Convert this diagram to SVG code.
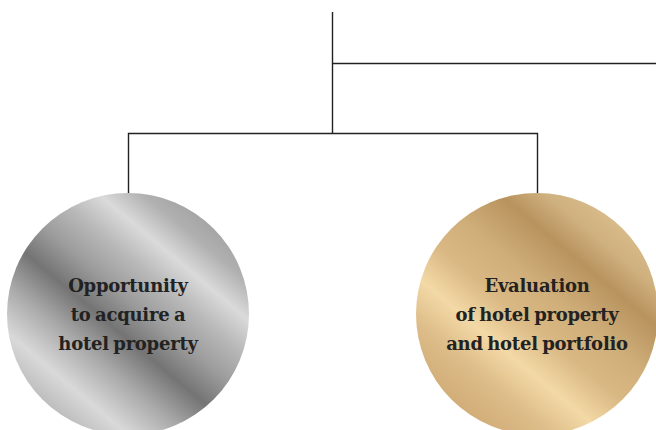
<svg xmlns="http://www.w3.org/2000/svg" width="656" height="430" viewBox="0 0 656 430">
<style>
.ln{stroke:#222;stroke-width:1.4;fill:none}
.lbl{font-family:"DejaVu Serif","Liberation Serif",serif;font-weight:bold;font-size:18px;letter-spacing:-0.25px;word-spacing:-1.5px;fill:#222;text-anchor:middle}
</style>
<defs>
<linearGradient id="silver" gradientUnits="userSpaceOnUse" x1="50" y1="407" x2="206" y2="221">
<stop offset="0" stop-color="#bdbdbd"/>
<stop offset="0.12" stop-color="#d9d9d9"/>
<stop offset="0.28" stop-color="#a8a8a8"/>
<stop offset="0.42" stop-color="#747474"/>
<stop offset="0.55" stop-color="#9c9c9c"/>
<stop offset="0.68" stop-color="#b8b8b8"/>
<stop offset="0.8" stop-color="#dadada"/>
<stop offset="0.92" stop-color="#b0b0b0"/>
<stop offset="1" stop-color="#a5a5a5"/>
</linearGradient>
<linearGradient id="gold" gradientUnits="userSpaceOnUse" x1="459" y1="407" x2="615" y2="221">
<stop offset="0" stop-color="#d2ad78"/>
<stop offset="0.15" stop-color="#dcbc88"/>
<stop offset="0.3" stop-color="#f3d9a6"/>
<stop offset="0.45" stop-color="#d9b883"/>
<stop offset="0.6" stop-color="#cfae7a"/>
<stop offset="0.78" stop-color="#b8935e"/>
<stop offset="0.9" stop-color="#cfb07f"/>
<stop offset="1" stop-color="#d8bb8a"/>
</linearGradient>
</defs>
<g id="connectors">
<path class="ln" d="M332.5 12V133.5"/>
<path class="ln" d="M332.5 63.5H656"/>
<path class="ln" d="M128.5 194V133.5H537.5V194"/>
</g>
<g id="node-opportunity">
<circle cx="128" cy="314" r="121" fill="url(#silver)"/>
<text class="lbl" x="128" y="292">Opportunity</text>
<text class="lbl" x="128" y="321">to acquire a</text>
<text class="lbl" x="128" y="350">hotel property</text>
</g>
<g id="node-evaluation">
<circle cx="537" cy="314" r="121" fill="url(#gold)"/>
<text class="lbl" x="537" y="292">Evaluation</text>
<text class="lbl" x="537" y="321">of hotel property</text>
<text class="lbl" x="537" y="350">and hotel portfolio</text>
</g>
</svg>
